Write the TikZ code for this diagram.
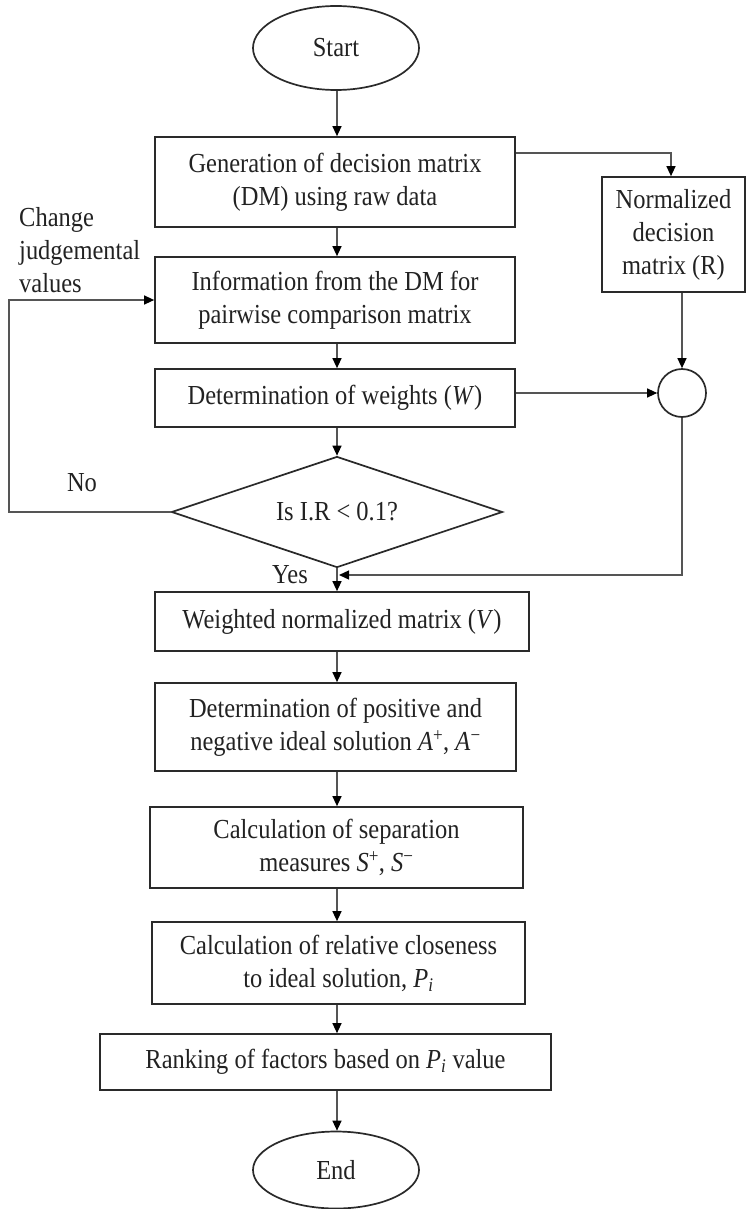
\documentclass[tikz,border=0pt]{standalone}
\usepackage{fontspec}
\setmainfont{Liberation Serif}[FakeStretch=0.89]
\usetikzlibrary{shapes.geometric,arrows.meta,calc}
\definecolor{boxc}{HTML}{2A2A2A}
\definecolor{linec}{HTML}{555555}
\definecolor{txtc}{HTML}{222222}
\tikzset{
  base/.style={draw=boxc, line width=1.7pt, inner sep=0pt, align=center, text=txtc,
    font=\fontsize{27.5}{33}\selectfont},
  stepbox/.style={base, rectangle},
  term/.style={base, ellipse},
  decide/.style={base, diamond, aspect=3},
  junct/.style={base, circle, minimum size=48},
  conn/.style={draw=linec, line width=1.3pt, -{Triangle[length=10pt,width=9pt,color=black]}},
  plain/.style={draw=linec, line width=1.3pt},
  lbl/.style={text=txtc, inner sep=0pt, font=\fontsize{27.5}{33}\selectfont}
}
\begin{document}
\begin{tikzpicture}[x=1pt,y=-1pt]
\useasboundingbox (0,0) rectangle (748,1209);
\node[term, minimum width=166, minimum height=84] (start) at (336,48) {Start};
\node[stepbox, minimum width=360, minimum height=90] (b1) at (335,182) {Generation of decision matrix\\(DM) using raw data};
\node[stepbox, minimum width=143, minimum height=115] (norm) at (673.5,234.5) {Normalized\\decision\\matrix (R)};
\node[stepbox, minimum width=360, minimum height=86] (b2) at (335,300) {Information from the DM for\\pairwise comparison matrix};
\node[stepbox, minimum width=360, minimum height=58] (b3) at (335,398) {Determination of weights (\textit{W})};
\node[junct] (circ) at (682,393) {};
\node[decide, minimum width=331, minimum height=111] (dia) at (337,512) {Is I.R < 0.1?};
\node[stepbox, minimum width=374, minimum height=59] (b4) at (342,621.5) {Weighted normalized matrix (\textit{V})};
\node[stepbox, minimum width=361, minimum height=88] (b5) at (335.5,727) {Determination of positive and\\negative ideal solution \textit{A}\textsuperscript{+}, \textit{A}\textsuperscript{−}};
\node[stepbox, minimum width=373, minimum height=81] (b6) at (336.5,847.5) {Calculation of separation\\measures \textit{S}\textsuperscript{+}, \textit{S}\textsuperscript{−}};
\node[stepbox, minimum width=373, minimum height=82] (b7) at (338.5,963) {Calculation of relative closeness\\to ideal solution, \textit{P}\textsubscript{\textit{i}}};
\node[stepbox, minimum width=451, minimum height=56] (b8) at (325.5,1062) {Ranking of factors based on \textit{P}\textsubscript{\textit{i}} value};
\node[term, minimum width=166, minimum height=77] (end) at (336,1170) {End};
% labels
\node[lbl, anchor=west, align=left] (chg) at (19,250) {Change\\judgemental\\values};
\node[lbl] (no) at (82,483) {No};
\node[lbl] (yes) at (290,575) {Yes};
% helper coordinates
\coordinate (ax) at (337,0);
\coordinate (lft) at (9,0);
\coordinate (top1) at (0,153);
\coordinate (jn) at (339,575);
% main vertical flow
\draw[conn] (ax |- start.south) -- (ax |- b1.north);
\draw[conn] (ax |- b1.south) -- (ax |- b2.north);
\draw[conn] (ax |- b2.south) -- (ax |- b3.north);
\draw[conn] (ax |- b3.south) -- (dia.north);
\draw[conn] (dia.south) -- (ax |- b4.north);
\draw[conn] (ax |- b4.south) -- (ax |- b5.north);
\draw[conn] (ax |- b5.south) -- (ax |- b6.north);
\draw[conn] (ax |- b6.south) -- (ax |- b7.north);
\draw[conn] (ax |- b7.south) -- (ax |- b8.north);
\draw[conn] (ax |- b8.south) -- (ax |- end.north);
% right branch
\draw[conn] (b1.east |- top1) -| ([xshift=-2.5pt]norm.north);
\draw[conn] (circ.north |- norm.south) -- (circ.north);
\draw[conn] (b3.east |- circ.west) -- (circ.west);
\draw[conn] (circ.south) |- (jn);
% feedback loop
\draw[conn] (dia.west) -| (lft |- b2.west) -- (b2.west);
\end{tikzpicture}
\end{document}
